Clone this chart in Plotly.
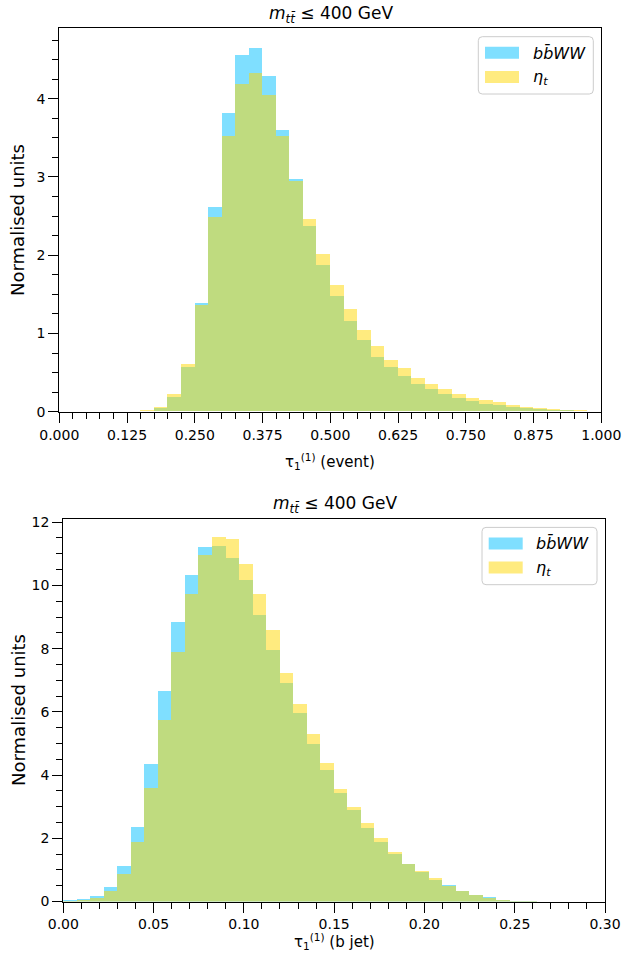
import numpy as np
import plotly.graph_objects as go

# ---------------- data ----------------
# top panel: tau_1^(1) (event), 40 bins on [0, 1]
top_range = [0.0, 1.0]
top_nbins = 40
top_bbww = [0, 0, 0, 0, 0, 0, 0.01, 0.045, 0.18, 0.57,
            1.39, 2.61, 3.82, 4.55, 4.65, 4.29, 3.60, 2.97, 2.37, 1.87,
            1.47, 1.15, 0.91, 0.70, 0.57, 0.45, 0.35, 0.285, 0.22, 0.17,
            0.13, 0.10, 0.08, 0.055, 0.04, 0.028, 0.02, 0.013, 0.008, 0.005]
top_eta = [0, 0, 0, 0, 0, 0, 0.015, 0.06, 0.22, 0.60,
           1.36, 2.48, 3.52, 4.18, 4.33, 4.05, 3.52, 2.94, 2.46, 2.01,
           1.61, 1.31, 1.04, 0.84, 0.66, 0.56, 0.43, 0.345, 0.28, 0.225,
           0.17, 0.14, 0.115, 0.077, 0.06, 0.047, 0.03, 0.02, 0.012, 0.008]

# bottom panel: tau_1^(1) (b jet), 40 bins on [0, 0.3]
bot_range = [0.0, 0.3]
bot_nbins = 40
bot_bbww = [0.06, 0.08, 0.17, 0.45, 1.11, 2.37, 4.35, 6.65, 8.83, 10.34,
            11.2, 11.24, 10.87, 10.16, 9.07, 7.95, 6.90, 5.95, 4.97, 4.15,
            3.44, 2.90, 2.34, 1.87, 1.51, 1.19, 0.94, 0.69, 0.51, 0.34,
            0.19, 0.13, 0.063, 0.03, 0.01, 0, 0, 0, 0, 0]
bot_eta = [0.03, 0.05, 0.11, 0.33, 0.86, 1.88, 3.59, 5.75, 7.90, 9.74,
           10.95, 11.53, 11.46, 10.69, 9.72, 8.59, 7.24, 6.25, 5.29, 4.37,
           3.57, 2.98, 2.49, 2.00, 1.58, 1.19, 0.98, 0.73, 0.50, 0.34,
           0.22, 0.12, 0.06, 0.03, 0.01, 0, 0, 0, 0, 0]

series_names = ["<i>bb\u0304WW</i>", "<i>\u03b7<sub>t</sub></i>"]
title_text = "<i>m</i><sub><i>tt\u0304</i></sub> \u2264 400 GeV"
top_xtitle = "\u03c4<sub>1</sub><sup>(1)</sup> (event)"
bot_xtitle = "\u03c4<sub>1</sub><sup>(1)</sup> (b jet)"
ytitle = "Normalised units"

# ---------------- style ----------------
FONT = "DejaVu Sans"
BLUE = "rgba(0,191,255,0.5)"
YELLOW = "rgba(255,215,0,0.5)"
W, H = 623, 967

fig = go.Figure()


def add_hist(vals, rng, nb, color, name, xa, ya):
    edges = np.linspace(rng[0], rng[1], nb + 1)
    bw = edges[1] - edges[0]
    fig.add_trace(go.Bar(
        x=edges[:-1], y=vals, width=bw, offset=0,
        marker=dict(color=color, line=dict(width=0)),
        name=name, xaxis=xa, yaxis=ya, showlegend=False,
    ))


add_hist(top_bbww, top_range, top_nbins, BLUE, series_names[0], "x", "y")
add_hist(top_eta, top_range, top_nbins, YELLOW, series_names[1], "x", "y")
add_hist(bot_bbww, bot_range, bot_nbins, BLUE, series_names[0], "x2", "y2")
add_hist(bot_eta, bot_range, bot_nbins, YELLOW, series_names[1], "x2", "y2")


def px_x(p):
    return p / W


def px_y(p):
    return 1 - p / H


axis_common = dict(
    showgrid=False, zeroline=False, showline=True, linecolor="black",
    linewidth=1.3, mirror=True, ticks="outside", ticklen=10, tickwidth=1.3,
    tickcolor="black", tickfont=dict(family=FONT, size=14, color="black"),
    automargin=False,
)

top_dom_x = [px_x(59.3), px_x(601.3)]
top_dom_y = [px_y(411.7), px_y(28.3)]
bot_dom_x = [px_x(63.3), px_x(605)]
bot_dom_y = [px_y(901.5), px_y(519)]

minor_common = dict(ticks="outside", ticklen=6, tickwidth=1.2,
                    tickcolor="black", showgrid=False)

fig.update_layout(
    template="none",
    width=W, height=H, margin=dict(l=0, r=0, t=0, b=0, pad=0),
    paper_bgcolor="white", plot_bgcolor="white",
    barmode="overlay", bargap=0, showlegend=False,
    font=dict(family=FONT, color="black"),
    xaxis=dict(domain=top_dom_x, anchor="y", range=top_range, dtick=0.125, tick0=0,
               tickformat=".3f", minor=dict(dtick=0.025, **minor_common), **axis_common),
    yaxis=dict(domain=top_dom_y, anchor="x", range=[0, 4.9], dtick=1, tick0=0,
               minor=dict(dtick=0.25, **minor_common), **axis_common),
    xaxis2=dict(domain=bot_dom_x, anchor="y2", range=bot_range, dtick=0.05, tick0=0,
                tickformat=".2f", minor=dict(dtick=0.01, **minor_common), **axis_common),
    yaxis2=dict(domain=bot_dom_y, anchor="x2", range=[0, 12.1], dtick=2, tick0=0,
                minor=dict(dtick=0.5, **minor_common), **axis_common),
)

ann_font = dict(family=FONT, size=15, color="black")
annotations = [
    dict(text=title_text, x=px_x(331), y=px_y(14), font=dict(family=FONT, size=17, color="black")),
    dict(text=title_text, x=px_x(335), y=px_y(504), font=dict(family=FONT, size=17, color="black")),
    dict(text=top_xtitle, x=px_x(330), y=px_y(462), font=ann_font),
    dict(text=bot_xtitle, x=px_x(334), y=px_y(941), font=ann_font),
    dict(text=ytitle, x=px_x(18), y=px_y(220), textangle=-90,
         font=dict(family=FONT, size=18, color="black")),
    dict(text=ytitle, x=px_x(18), y=px_y(710), textangle=-90,
         font=dict(family=FONT, size=18, color="black")),
]
for a in annotations:
    a.update(xref="paper", yref="paper", showarrow=False, xanchor="center", yanchor="middle")

shapes = []


def rounded_box(x0, y0, x1, y1, r=4):
    # pixel coords (page), converted to paper
    X0, X1 = px_x(x0), px_x(x1)
    Y0, Y1 = px_y(y1), px_y(y0)  # Y0 bottom, Y1 top
    rx, ry = r / W, r / H
    path = (f"M {X0+rx},{Y0} L {X1-rx},{Y0} Q {X1},{Y0} {X1},{Y0+ry} "
            f"L {X1},{Y1-ry} Q {X1},{Y1} {X1-rx},{Y1} "
            f"L {X0+rx},{Y1} Q {X0},{Y1} {X0},{Y1-ry} "
            f"L {X0},{Y0+ry} Q {X0},{Y0} {X0+rx},{Y0} Z")
    return dict(type="path", path=path, xref="paper", yref="paper",
                fillcolor="rgba(255,255,255,0.8)", line=dict(color="#cccccc", width=1))


def add_legend(dx, dy):
    shapes.append(rounded_box(478.3 + dx, 36.7 + dy, 593.3 + dx, 94 + dy))
    for k, (col, name) in enumerate(zip([BLUE, YELLOW], series_names)):
        ys0 = 46.7 + 24.2 * k + dy
        shapes.append(dict(type="rect", xref="paper", yref="paper",
                           x0=px_x(485 + dx), x1=px_x(519 + dx),
                           y0=px_y(ys0 + 12), y1=px_y(ys0),
                           fillcolor=col, line=dict(width=0)))
        annotations.append(dict(text=name, x=px_x(530.5 + dx), y=px_y(ys0 + 6.5),
                                xref="paper", yref="paper", showarrow=False,
                                xanchor="left", yanchor="middle",
                                font=dict(family=FONT, size=16, color="black")))


add_legend(0, 0)
add_legend(3.7, 490.7)

fig.update_layout(annotations=annotations, shapes=shapes)

fig.write_html(
    "out.html",
    config={"displayModeBar": False},
    post_script="document.body.style.margin='0';document.body.style.padding='0';"
                "document.body.style.overflow='hidden';",
)
